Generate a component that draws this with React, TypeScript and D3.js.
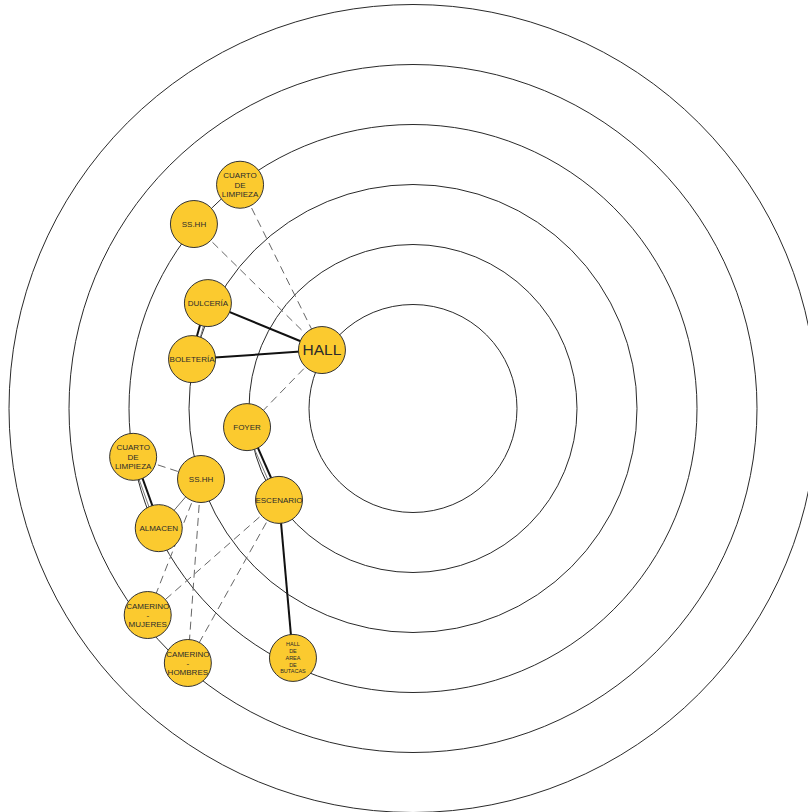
import React from "react";
import * as d3 from "d3";

// ---------- data ----------
const ringLevels = [0, 1, 2, 3, 4, 5];

const nodeIds = [
  "hall", "limpieza1", "sshh1", "dulceria", "boleteria", "foyer", "escenario",
  "limpieza2", "sshh2", "almacen", "camMujeres", "camHombres", "butacas",
];
const nodeLabels = [
  ["HALL"],
  ["CUARTO", "DE", "LIMPIEZA"],
  ["SS.HH"],
  ["DULCERÍA"],
  ["BOLETERÍA"],
  ["FOYER"],
  ["ESCENARIO"],
  ["CUARTO", "DE", "LIMPIEZA"],
  ["SS.HH"],
  ["ALMACEN"],
  ["CAMERINO", "-", "MUJERES"],
  ["CAMERINO", "-", "HOMBRES"],
  ["HALL", "DE", "AREA", "DE", "BUTACAS"],
];
// ring level (0 = innermost circle) and angle in degrees, clockwise from 12 o'clock
const nodeRings = [0.07, 2.98, 3.04, 2.11, 2.04, 1.05, 0.97, 3.0, 1.99, 2.95, 3.87, 3.93, 2.88];
const nodeAngles = [302.7, 322.3, 310.1, 297.2, 282.6, 263.6, 235.7, 260.2, 251.6, 244.8, 232.1, 221.5, 205.7];

const edgeSources = [
  "hall", "hall", "escenario",
  "boleteria", "foyer", "limpieza2",
  "limpieza1", "sshh1", "hall", "limpieza2", "sshh2", "sshh2", "escenario", "escenario",
  "sshh2",
];
const edgeTargets = [
  "dulceria", "boleteria", "butacas",
  "dulceria", "escenario", "almacen",
  "hall", "hall", "foyer", "sshh2", "camMujeres", "camHombres", "camMujeres", "camHombres",
  "almacen",
];
const edgeTypes = [
  "solid", "solid", "solid",
  "double", "double", "double",
  "dashed", "dashed", "dashed", "dashed", "dashed", "dashed", "dashed", "dashed",
  "thin",
];

// ---------- layout ----------
const W = 808;
const H = 812;
const CX = 413;
const CY = 408.5;
const NODE_R = 23.5;

const rScale = d3.scaleLinear().domain([0, 5]).range([104, 404]);

type Node = { id: string; lines: string[]; x: number; y: number };

const nodes: Node[] = nodeIds.map((id, i) => {
  const [px, py] = d3.pointRadial((nodeAngles[i] * Math.PI) / 180, rScale(nodeRings[i]));
  return { id, lines: nodeLabels[i], x: CX + px, y: CY + py };
});
const byId = new Map(nodes.map((n) => [n.id, n]));

function fontSize(id: string) {
  if (id === "hall") return 15.5;
  if (id === "butacas") return 5.5;
  return 8;
}
function lineHeight(id: string) {
  if (id === "butacas") return 6.8;
  return 9.2;
}

export default function App() {
  const edges = edgeSources.map((s, i) => ({
    a: byId.get(s)!,
    b: byId.get(edgeTargets[i])!,
    type: edgeTypes[i],
  }));

  return (
    <svg
      width={W}
      height={H}
      style={{ position: "absolute", left: 0, top: 0, background: "#fff" }}
      fontFamily="'Liberation Sans', Arial, sans-serif"
    >
      <rect width={W} height={H} fill="#fff" />
      <g>
        {ringLevels.map((lv) => (
          <circle key={lv} cx={CX} cy={CY} r={rScale(lv)} fill="none" stroke="#2a2a2a" strokeWidth={1} />
        ))}
      </g>
      <g>
        {edges.map((e, i) => {
          const { a, b, type } = e;
          if (type === "double") {
            const dx = b.x - a.x;
            const dy = b.y - a.y;
            const len = Math.hypot(dx, dy);
            const nx = -dy / len;
            const ny = dx / len;
            const o1 = -1.6;
            const o2 = 2.0;
            return (
              <g key={i}>
                <line x1={a.x + nx * o1} y1={a.y + ny * o1} x2={b.x + nx * o1} y2={b.y + ny * o1} stroke="#111" strokeWidth={2} />
                <line x1={a.x + nx * o2} y1={a.y + ny * o2} x2={b.x + nx * o2} y2={b.y + ny * o2} stroke="#777" strokeWidth={1} />
              </g>
            );
          }
          if (type === "solid") {
            return <line key={i} x1={a.x} y1={a.y} x2={b.x} y2={b.y} stroke="#111" strokeWidth={2} />;
          }
          if (type === "thin") {
            return <line key={i} x1={a.x} y1={a.y} x2={b.x} y2={b.y} stroke="#666" strokeWidth={1} />;
          }
          return (
            <line key={i} x1={a.x} y1={a.y} x2={b.x} y2={b.y} stroke="#666" strokeWidth={1} strokeDasharray="8,5" />
          );
        })}
      </g>
      <g>
        {nodes.map((n) => {
          const fs = fontSize(n.id);
          const lh = lineHeight(n.id);
          const total = (n.lines.length - 1) * lh;
          return (
            <g key={n.id} transform={`translate(${n.x},${n.y})`}>
              <circle r={NODE_R} fill="#FBCA2F" stroke="#333" strokeWidth={1} />
              {n.lines.map((t, j) => (
                <text
                  key={j}
                  x={0}
                  y={-total / 2 + j * lh}
                  dy="0.35em"
                  textAnchor="middle"
                  fontSize={fs}
                  fill="#2b2b2b"
                >
                  {t}
                </text>
              ))}
            </g>
          );
        })}
      </g>
    </svg>
  );
}
